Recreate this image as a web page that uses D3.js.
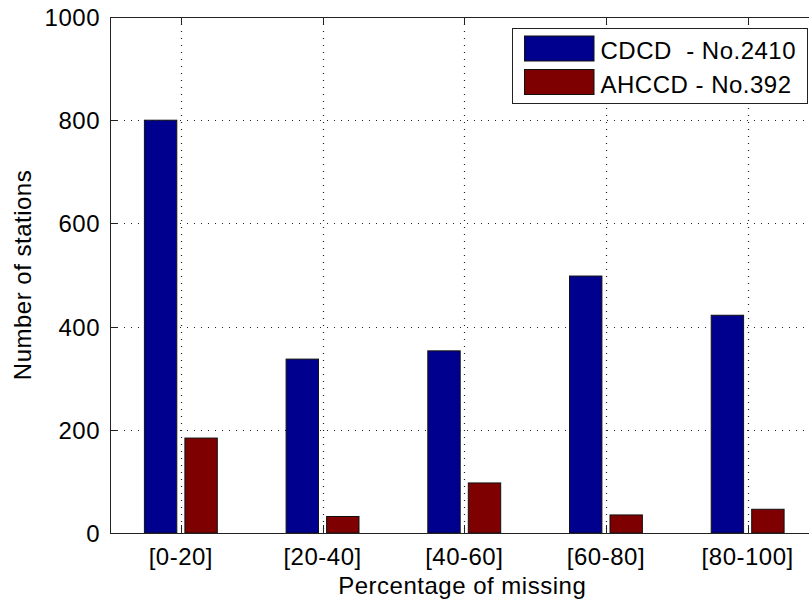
<!DOCTYPE html>
<html>
<head>
<meta charset="utf-8">
<script src="https://cdn.jsdelivr.net/npm/d3@7"></script>
<style>
  html, body { margin: 0; padding: 0; background: #fff; }
  svg { display: block; }
  text { font-family: "Liberation Sans", Arial, Helvetica, sans-serif; fill: #000; letter-spacing: 0.5px; }
</style>
</head>
<body>
<svg id="chart" width="809" height="600"></svg>
<script>
// ---- data ----
const categories = ["[0-20]", "[20-40]", "[40-60]", "[60-80]", "[80-100]"];
const seriesNames = ["CDCD  - No.2410", "AHCCD - No.392"];
const cdcdValues = [800, 337, 353, 498, 422];
const ahccdValues = [184, 32, 97, 35, 46];
const yTicks = [0, 200, 400, 600, 800, 1000];
const seriesColors = ["#00008f", "#7f0000"];

(function () {
// ---- layout ----
const svg = d3.select("#chart");
const mLeft = 110, mTop = 17, mBottom = 533;
const x = d3.scaleLinear().domain([0.5, 5.5]).range([mLeft, mLeft + 5 * 141.7]);
const y = d3.scaleLinear().domain([0, 1000]).range([mBottom, mTop]);
const mRight = x(5.5);
const fontSize = 24;

const seriesData = [cdcdValues, ahccdValues];
const barOffsets = [-0.1429, 0.1429];
const barWidth = 0.2286;

// gridlines
const grid = svg.append("g");
yTicks.slice(1, -1).forEach(t => {
  grid.append("line").attr("x1", mLeft).attr("x2", mRight)
    .attr("y1", Math.round(y(t)) + 0.5).attr("y2", Math.round(y(t)) + 0.5)
    .attr("stroke", "#222").attr("stroke-width", 1.2).attr("stroke-dasharray", "1,6");
});
categories.forEach((c, i) => {
  const xx = Math.round(x(i + 1)) + 0.5;
  grid.append("line").attr("x1", xx).attr("x2", xx)
    .attr("y1", mTop).attr("y2", mBottom)
    .attr("stroke", "#222").attr("stroke-width", 1.2).attr("stroke-dasharray", "1,6");
});

// bars
seriesData.forEach((vals, s) => {
  svg.append("g").selectAll("rect").data(vals).join("rect")
    .attr("x", (d, i) => x(i + 1 + barOffsets[s] - barWidth / 2))
    .attr("width", x(barWidth) - x(0))
    .attr("y", d => y(d))
    .attr("height", d => y(0) - y(d))
    .attr("fill", seriesColors[s])
    .attr("stroke", "#111").attr("stroke-width", 1);
});

// axes box lines
svg.append("line").attr("x1", mLeft).attr("x2", mRight).attr("y1", mTop + 0.5).attr("y2", mTop + 0.5)
  .attr("stroke", "#222").attr("stroke-width", 1);
svg.append("line").attr("x1", mLeft).attr("x2", mRight).attr("y1", mBottom + 0.5).attr("y2", mBottom + 0.5)
  .attr("stroke", "#222").attr("stroke-width", 1);
svg.append("line").attr("x1", mLeft + 0.5).attr("x2", mLeft + 0.5).attr("y1", mTop).attr("y2", mBottom + 1)
  .attr("stroke", "#222").attr("stroke-width", 1);

// ticks (inward)
yTicks.forEach(t => {
  const yy = Math.round(y(t)) + 0.5;
  svg.append("line").attr("x1", mLeft).attr("x2", mLeft + 8).attr("y1", yy).attr("y2", yy)
    .attr("stroke", "#222");
  svg.append("text").attr("x", 100).attr("y", yy).attr("dy", "0.35em")
    .attr("text-anchor", "end").attr("font-size", fontSize).text(t);
});
categories.forEach((c, i) => {
  const xx = Math.round(x(i + 1)) + 0.5;
  svg.append("line").attr("x1", xx).attr("x2", xx).attr("y1", mBottom).attr("y2", mBottom - 8)
    .attr("stroke", "#222");
  svg.append("line").attr("x1", xx).attr("x2", xx).attr("y1", mTop).attr("y2", mTop + 8)
    .attr("stroke", "#222");
  svg.append("text").attr("x", x(i + 1)).attr("y", 565)
    .attr("text-anchor", "middle").attr("font-size", fontSize).text(c);
});

// axis titles
svg.append("text").attr("x", (mLeft + mRight) / 2 - 2).attr("y", 594)
  .attr("text-anchor", "middle").attr("font-size", fontSize).text("Percentage of missing");
svg.append("text").attr("transform", `translate(31,${(mTop + mBottom) / 2}) rotate(-90)`)
  .attr("text-anchor", "middle").attr("font-size", fontSize).text("Number of stations");

// legend
const lg = svg.append("g");
lg.append("rect").attr("x", 512.5).attr("y", 28.5).attr("width", 295).attr("height", 75)
  .attr("fill", "#fff").attr("stroke", "#222").attr("stroke-width", 1);
seriesNames.forEach((n, s) => {
  const sy = [36, 69.5][s];
  lg.append("rect").attr("x", 524.5).attr("y", sy).attr("width", 69.5).attr("height", 25)
    .attr("fill", seriesColors[s]).attr("stroke", "#111").attr("stroke-width", 1);
  lg.append("text").attr("x", 600.5).attr("y", [58.5, 92.5][s])
    .attr("font-size", fontSize).style("white-space", "pre").text(n);
});
})();
</script>
</body>
</html>
